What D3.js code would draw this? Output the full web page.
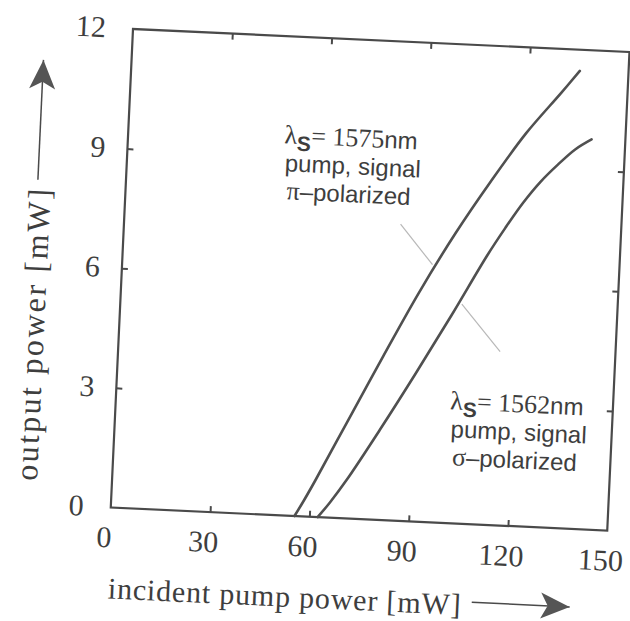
<!DOCTYPE html>
<html>
<head>
<meta charset="utf-8">
<script src="https://cdn.jsdelivr.net/npm/d3@7"></script>
<style>
  html, body { margin: 0; padding: 0; background: #fff; }
  svg { display: block; }
</style>
</head>
<body>
<div id="chart"></div>
<script>
// ---- data ----
const xTicks = [0, 30, 60, 90, 120, 150];
const yTicks = [0, 3, 6, 9, 12];
const xInnerTicks = [30, 60, 90, 120];
const yInnerTicks = [3, 6, 9];

// lambda_s = 1575 nm, pi-polarized
const piX = [55.5, 58, 61.2, 70, 80, 90, 100, 110, 120, 130, 135.3];
const piY = [0, 0.38, 0.9, 2.4, 4.1, 5.75, 7.25, 8.6, 9.85, 10.9, 11.47];

// lambda_s = 1562 nm, sigma-polarized
const sigX = [62.5, 66, 70.7, 80, 90, 100, 110, 115, 120, 125, 130, 135, 139.8];
const sigY = [0, 0.38, 0.96, 2.25, 3.7, 5.2, 6.75, 7.45, 8.1, 8.65, 9.1, 9.5, 9.77];

// annotation leader segments (data coordinates)
const leader1X = [83.4, 93.6], leader1Y = [7.43, 6.45];
const leader2X = [103, 115.2], leader2Y = [5.5, 4.35];

const xTitle = "incident pump power [mW]";
const yTitle = "output power [mW]";

// ---- layout ----
const Wsvg = 630, Hsvg = 621;
const W = 497, H = 479;
const ink = "#4a4a4a", textInk = "#3e3e3e";
const serif = "'Liberation Serif', 'Times New Roman', serif";
const sans = "'Liberation Sans', Arial, sans-serif";

const svg = d3.select("#chart").append("svg")
  .attr("width", Wsvg).attr("height", Hsvg);

const g = svg.append("g").attr("transform", "translate(133,29) rotate(2.66)");

const x = d3.scaleLinear().domain([0, 150]).range([0, W]);
const y = d3.scaleLinear().domain([0, 12]).range([H, 0]);

// frame
g.append("rect").attr("x", 0).attr("y", 0).attr("width", W).attr("height", H)
  .attr("fill", "none").attr("stroke", ink).attr("stroke-width", 2.2);

// axes (inward ticks)
const axB = g.append("g").attr("transform", `translate(0,${H})`)
  .call(d3.axisBottom(x).tickValues(xTicks).tickSize(-6).tickFormat(d3.format("d")));
const axT = g.append("g")
  .call(d3.axisTop(x).tickValues(xInnerTicks).tickSize(-6).tickFormat(""));
const axL = g.append("g")
  .call(d3.axisLeft(y).tickValues(yTicks).tickSize(-6).tickFormat(d3.format("d")));
const axR = g.append("g").attr("transform", `translate(${W},0)`)
  .call(d3.axisRight(y).tickValues(yInnerTicks).tickSize(-6).tickFormat(""));

[axB, axT, axL, axR].forEach(a => {
  a.select(".domain").remove();
  a.selectAll(".tick line").attr("stroke", ink).attr("stroke-width", 2);
});
axB.selectAll(".tick line").filter(d => d === 0 || d === 150).remove();
axL.selectAll(".tick line").filter(d => d === 0 || d === 12).remove();

axB.selectAll(".tick text")
  .attr("y", 40).attr("dy", null).attr("x", -6)
  .attr("font-family", serif).attr("font-size", 30).attr("fill", textInk);
axL.selectAll(".tick text")
  .attr("x", d => (d === 0 || d === 12) ? -27 : -22).attr("dy", null).attr("y", 9)
  .attr("font-family", serif).attr("font-size", 30).attr("fill", textInk)
  .attr("text-anchor", "end");

// curves
const line = d3.line().x(d => x(d[0])).y(d => y(d[1])).curve(d3.curveCatmullRom.alpha(0.5));
const piData = piX.map((v, i) => [v, piY[i]]);
const sigData = sigX.map((v, i) => [v, sigY[i]]);
g.append("path").attr("d", line(piData)).attr("fill", "none")
  .attr("stroke", "#505050").attr("stroke-width", 2.6).attr("stroke-linecap", "round");
g.append("path").attr("d", line(sigData)).attr("fill", "none")
  .attr("stroke", "#505050").attr("stroke-width", 2.6).attr("stroke-linecap", "round");

// leader lines
const straight = d3.line().x(d => x(d[0])).y(d => y(d[1]));
g.append("path").attr("d", straight(leader1X.map((v, i) => [v, leader1Y[i]])))
  .attr("stroke", "#b8b8b8").attr("stroke-width", 1.2).attr("fill", "none");
g.append("path").attr("d", straight(leader2X.map((v, i) => [v, leader2Y[i]])))
  .attr("stroke", "#b8b8b8").attr("stroke-width", 1.2).attr("fill", "none");

// annotations
function annot(cx, by, nm, greek) {
  const t1 = g.append("text").attr("x", cx).attr("y", by).attr("text-anchor", "middle")
    .attr("fill", textInk);
  t1.append("tspan").attr("font-family", serif).attr("font-size", 26).text("λ");
  t1.append("tspan").attr("font-family", sans).attr("font-size", 21).attr("font-weight", "bold")
    .attr("dy", 7).text("S");
  t1.append("tspan").attr("font-family", serif).attr("font-size", 26).attr("dy", -7).text("= " + nm);
  t1.append("tspan").attr("font-family", sans).attr("font-size", 24).text("nm");

  g.append("text").attr("x", cx + 3).attr("y", by + 28).attr("text-anchor", "middle")
    .attr("font-family", sans).attr("font-size", 24).attr("fill", textInk)
    .text("pump, signal");

  const t3 = g.append("text").attr("x", cx).attr("y", by + 56).attr("text-anchor", "middle")
    .attr("fill", textInk);
  t3.append("tspan").attr("font-family", serif).attr("font-size", 26).text(greek);
  t3.append("tspan").attr("font-family", sans).attr("font-size", 24).text("–polarized");
}
annot(223, 107, "1575", "π");
annot(401, 365, "1562", "σ");

// axis titles
g.append("text").attr("x", 1).attr("y", 570)
  .attr("font-family", serif).attr("font-size", 30).attr("fill", textInk)
  .attr("textLength", 353).attr("lengthAdjust", "spacing")
  .text(xTitle);

g.append("text")
  .attr("transform", `translate(-75,${310}) rotate(-90)`)
  .attr("text-anchor", "middle")
  .attr("font-family", serif).attr("font-size", 32).attr("fill", textInk)
  .attr("textLength", 292).attr("lengthAdjust", "spacing")
  .text(yTitle);

// arrows
function arrow(x1, y1, x2, y2) {
  const ang = Math.atan2(y2 - y1, x2 - x1) * 180 / Math.PI;
  g.append("line").attr("x1", x1).attr("y1", y1).attr("x2", x2).attr("y2", y2)
    .attr("stroke", ink).attr("stroke-width", 1.5);
  g.append("path").attr("d", "M0,0 L-29,-13 L-22,0 L-29,13 Z")
    .attr("transform", `translate(${x2},${y2}) rotate(${ang})`)
    .attr("fill", "#555");
}
arrow(365, 557, 463, 557);
arrow(-88, 155, -88, 35);
</script>
</body>
</html>
